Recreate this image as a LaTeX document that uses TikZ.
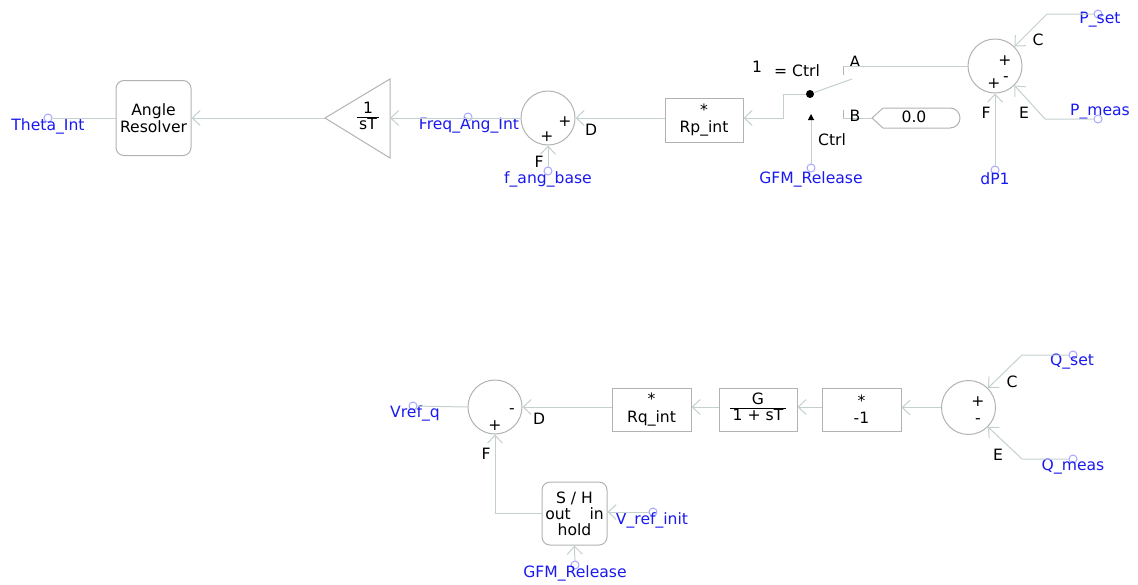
\documentclass[tikz,border=0pt]{standalone}
\usepackage{fontspec}
\setmainfont{DejaVu Sans}
\usetikzlibrary{arrows.meta}

\definecolor{wirecol}{RGB}{196,208,208}
\definecolor{edgecol}{RGB}{178,178,178}
\definecolor{sigcol}{RGB}{25,25,240}
\newcommand*{\frc}[2]{\begin{tabular}{@{\,}c@{\,}}#1\\[-1pt]\hline #2\end{tabular}}

\begin{document}
\begin{tikzpicture}
[
	x=0.5pt,y=-0.5pt,
	font=\fontsize{7.8}{8.6}\selectfont,
	block/.style={draw=edgecol,rectangle,align=center,inner sep=0pt},
	rblock/.style={block,rounded corners=4pt},
	sumjct/.style={draw=edgecol,circle,minimum size=27pt,inner sep=0pt},
	port/.style={circle,draw=blue!35,inner sep=0pt,minimum size=4pt},
	siglabel/.style={text=sigcol,inner sep=0pt},
	tag/.style={inner sep=0pt},
	wire/.style={draw=wirecol,line width=0.5pt},
	flow/.style={wire,-{Straight Barb[length=4pt,width=7.5pt,line width=0.5pt]}},
	line width=0.5pt
]
	\useasboundingbox (0,0) rectangle (1138,584);

	% top row
	\node[rblock,minimum width=37.5pt,minimum height=37.5pt] (resolver) at (153.5,118) {Angle\\Resolver};
	\draw[draw=edgecol] (325,118) -- (390,79) -- (390,158) -- cycle;
	\coordinate (integout) at (325,118);
	\coordinate (integin) at (390,118);
	\node[tag] (integ) at (368,118) {\frc{1}{sT}};
	\node[sumjct] (sum1) at (548,118) {};
	\node[block,minimum width=39pt,minimum height=22pt] (rpint) at (704,120) {*\\Rp\_int};

	\node[port] (pTheta) at (48,118) {};
	\node[siglabel] (lTheta) at (48,126) {Theta\_Int};
	\node[port] (pFreq) at (468,117) {};
	\node[siglabel] (lFreq) at (469,126) {Freq\_Ang\_Int};
	\node[port] (pFbase) at (548,171) {};
	\node[siglabel] (lFbase) at (548,179) {f\_ang\_base};

	\draw[wire] (pTheta) -- (resolver.west);
	\draw[flow] (integout) -- (resolver.east);
	\draw[flow] (sum1.west) -- (integin);
	\draw[flow] (rpint.west |- sum1) -- (sum1.east);
	\draw[flow] (pFbase) -- (sum1.south);

	\node[tag] at (565,122) {+};
	\node[tag] at (547,137) {+};
	\node[tag] at (591,130) {D};
	\node[tag] at (539,162) {F};

	% switch
	\node[circle,fill,inner sep=0pt,minimum size=4pt] (pivot) at (810,94) {};
	\coordinate (blade) at (852,79);
	\coordinate (termA) at (843,66);
	\coordinate (termB) at (843,118);
	\draw[wire] (pivot) -- (blade);
	\draw[flow] (pivot) -- (783,94) -- (783,118) -- (rpint.east |- 0,118);
	\draw[edgecol] (843,75) -- (termA);
	\draw[edgecol] (843,110) -- (termB);

	\draw[draw=edgecol] (872,118) -- (883,108) -- (950,108) arc (-90:90:10) -- (883,128) -- cycle;
	\coordinate (const) at (872,118);
	\node[tag] (cval) at (914,117) {0.0};
	\draw[wire] (termB) -- (const);

	\node[port] (pGfm1) at (811,168) {};
	\node[siglabel] (lGfm1) at (811,179) {GFM\_Release};
	\draw[wire,-{Triangle[length=3pt,width=3pt,color=black]}] (pGfm1) -- (811,114);

	\node[tag] at (757,67) {1};
	\node[tag] at (797,71) {= Ctrl};
	\node[tag] at (855,62) {A};
	\node[tag] at (855,116) {B};
	\node[tag] at (832,140) {Ctrl};

	% power summing junction
	\node[sumjct] (sum2) at (995,66) {};
	\draw[wire] (termA) -- (sum2.west);
	\node[port] (pPset) at (1098,14) {};
	\node[siglabel] (lPset) at (1100,20) {P\_set};
	\node[port] (pPmeas) at (1098,119) {};
	\node[siglabel] (lPmeas) at (1100,112) {P\_meas};
	\node[port] (pdP) at (995,170) {};
	\node[siglabel] (ldP) at (995,179) {dP1};
	\draw[flow] (pPset) -- (1047,14) -- (sum2.45);
	\draw[flow] (pPmeas) -- (1045,119) -- (sum2.-45);
	\draw[flow] (pdP) -- (sum2.south);

	\node[tag] at (1005,61) {+};
	\node[tag] at (994,84) {+};
	\node[tag] at (1006,79) {-};
	\node[tag] at (1038,40) {C};
	\node[tag] at (1024,113) {E};
	\node[tag] at (986,113) {F};

	% bottom row
	\node[sumjct] (sum3) at (495,407) {};
	\node[block,minimum width=39.5pt,minimum height=21.5pt] (rqint) at (651.5,409.5) {*\\Rq\_int};
	\node[block,minimum width=39pt,minimum height=21.5pt] (lag) at (758,409.5) {\frc{G}{1 + sT}};
	\node[block,minimum width=39.5pt,minimum height=21.5pt] (neg) at (861.5,409.5) {*\\-1};
	\node[sumjct] (sum4) at (968.5,407.5) {};
	\node[rblock,minimum width=32.5pt,minimum height=31.5pt,font=\fontsize{7.8}{8}\selectfont] (sh) at (574.5,513.5) {S / H\\out\hspace{1.2em}in\\hold};

	\node[port] (pVref) at (413,406) {};
	\node[siglabel] (lVref) at (415,413) {Vref\_q};
	\node[port] (pQset) at (1073,355) {};
	\node[siglabel] (lQset) at (1072,362) {Q\_set};
	\node[port] (pQmeas) at (1073,459) {};
	\node[siglabel] (lQmeas) at (1073,467) {Q\_meas};
	\node[port] (pVinit) at (653,512) {};
	\node[siglabel] (lVinit) at (652,520) {V\_ref\_init};
	\node[port] (pGfm2) at (575,565) {};
	\node[siglabel] (lGfm2) at (575,573) {GFM\_Release};

	\draw[wire] (pVref) -- (sum3.west);
	\draw[flow] (rqint.west |- sum3) -- (sum3.east);
	\draw[flow] (lag.west |- sum3) -- (rqint.east |- sum3);
	\draw[flow] (neg.west |- sum3) -- (lag.east |- sum3);
	\draw[flow] (sum4.west) -- (neg.east |- sum4);
	\draw[flow] (pQset) -- (1022,355) -- (sum4.45);
	\draw[flow] (pQmeas) -- (1022,459) -- (sum4.-45);
	\draw[flow] (sh.west |- 0,513) -- (495,513) -- (sum3.south);
	\draw[flow] (pVinit) -- (sh.east |- pVinit);
	\draw[flow] (pGfm2) -- (sh.south);

	\node[tag] at (512,411) {-};
	\node[tag] at (495,426) {+};
	\node[tag] at (539,419) {D};
	\node[tag] at (486,454) {F};
	\node[tag] at (978,402) {+};
	\node[tag] at (978,421) {-};
	\node[tag] at (1012,382) {C};
	\node[tag] at (998,455) {E};

\end{tikzpicture}
\end{document}
